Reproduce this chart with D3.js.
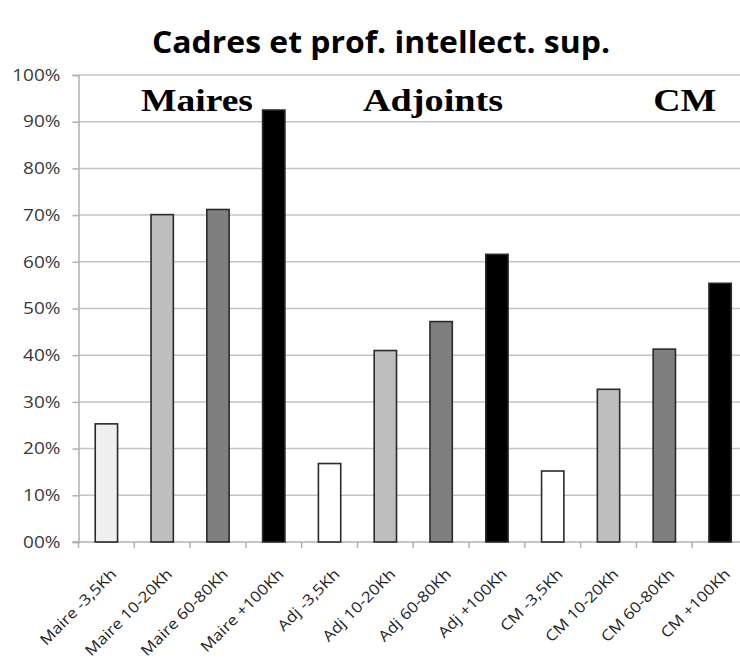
<!DOCTYPE html>
<html>
<head>
<meta charset="utf-8">
<script src="https://cdn.jsdelivr.net/npm/d3@7"></script>
<style>
  body { margin: 0; background: #fff; }
  svg { display: block; }
</style>
</head>
<body>
<div class="chart"></div>
<script>
// categories and values
var categories = ["Maire -3,5Kh", "Maire 10-20Kh", "Maire 60-80Kh", "Maire +100Kh",
                  "Adj -3,5Kh", "Adj 10-20Kh", "Adj 60-80Kh", "Adj +100Kh",
                  "CM -3,5Kh", "CM 10-20Kh", "CM 60-80Kh", "CM +100Kh"];
var values = [25.3, 70.1, 71.2, 92.5, 16.8, 41.0, 47.2, 61.6, 15.2, 32.7, 41.3, 55.4];
var fills = ["#efefef", "#bebebe", "#7f7f7f", "#000000",
             "#ffffff", "#bebebe", "#7f7f7f", "#000000",
             "#ffffff", "#bebebe", "#7f7f7f", "#000000"];
var yTicks = [0, 10, 20, 30, 40, 50, 60, 70, 80, 90, 100];
var yTickLabels = ["00%", "10%", "20%", "30%", "40%", "50%", "60%", "70%", "80%", "90%", "100%"];
var groups = ["Maires", "Adjoints", "CM"];
var title = "Cadres et prof. intellect. sup.";

var svgWidth = 740, svgHeight = 666;
var margin = {top: 75, right: -8, bottom: 124, left: 78.5};
var width = svgWidth - margin.left - margin.right;
var height = svgHeight - margin.top - margin.bottom;

// the picture is a bit wider than the fonts, so stretch text sideways
function stretch(sel, k) {
  sel.each(function() {
    var len = this.getComputedTextLength();
    d3.select(this)
      .attr("textLength", len * k)
      .attr("lengthAdjust", "spacingAndGlyphs");
  });
}

var svg = d3.select(".chart").append("svg")
  .attr("width", svgWidth)
  .attr("height", svgHeight);

svg.append("text")
  .attr("x", 381)
  .attr("y", 53)
  .attr("text-anchor", "middle")
  .style("font-family", "'Open Sans', sans-serif")
  .style("font-weight", "bold")
  .style("font-size", "30px")
  .style("fill", "#000")
  .text(title)
  .attr("textLength", 458)
  .attr("lengthAdjust", "spacingAndGlyphs");

var chartGroup = svg.append("g")
  .attr("transform", `translate(${margin.left}, ${margin.top})`);

var x = d3.scaleBand()
  .domain(categories)
  .range([0, width])
  .paddingInner(0.6)
  .paddingOuter(0.3);

var y = d3.scaleLinear()
  .domain([0, 100])
  .range([height, 0]);

// gridlines
chartGroup.append("g")
  .selectAll("line")
  .data(yTicks.filter(d => d > 0))
  .enter()
  .append("line")
  .attr("x1", 0)
  .attr("x2", svgWidth)
  .attr("y1", d => y(d))
  .attr("y2", d => y(d))
  .attr("stroke", "#c4c4c4")
  .attr("stroke-width", 1.5);

// y axis
var leftAxis = d3.axisLeft(y)
  .tickValues(yTicks)
  .tickFormat((d, i) => yTickLabels[i])
  .tickSize(6)
  .tickPadding(12);

var yAxis = chartGroup.append("g").call(leftAxis);
yAxis.select(".domain").attr("stroke", "#b0b0b0").attr("stroke-width", 1.5);
yAxis.selectAll(".tick line").attr("stroke", "#b0b0b0").attr("stroke-width", 1.5);
yAxis.selectAll("text")
  .style("font-family", "'Open Sans', sans-serif")
  .style("font-size", "16.5px")
  .style("fill", "#383838")
  .call(stretch, 1.15);

// x axis line and ticks at band boundaries
var step = x.step();
var boundaries = d3.range(categories.length + 1).map(i => x(categories[0]) - x.bandwidth() * 0.75 + i * step);
chartGroup.append("line")
  .attr("x1", -6)
  .attr("x2", svgWidth)
  .attr("y1", height)
  .attr("y2", height)
  .attr("stroke", "#b0b0b0")
  .attr("stroke-width", 1.5);
chartGroup.append("g")
  .selectAll("line")
  .data(boundaries)
  .enter()
  .append("line")
  .attr("x1", d => d)
  .attr("x2", d => d)
  .attr("y1", height)
  .attr("y2", height + 6)
  .attr("stroke", "#b0b0b0")
  .attr("stroke-width", 1.5);

// bars
chartGroup.selectAll("rect.bar")
  .data(values)
  .enter()
  .append("rect")
  .attr("class", "bar")
  .attr("x", (d, i) => x(categories[i]))
  .attr("y", d => y(d))
  .attr("width", x.bandwidth())
  .attr("height", d => height - y(d))
  .attr("fill", (d, i) => fills[i])
  .attr("stroke", "#2a2a2a")
  .attr("stroke-width", 1.6);

// x labels
chartGroup.append("g")
  .selectAll("text")
  .data(categories)
  .enter()
  .append("text")
  .attr("transform", d => `translate(${x(d) + x.bandwidth() / 2 + 11}, ${height + 33}) rotate(-45)`)
  .attr("text-anchor", "end")
  .style("font-family", "'Open Sans', sans-serif")
  .style("font-size", "15px")
  .style("fill", "#222")
  .text(d => d)
  .call(stretch, 1.14);

// group labels, left-aligned
var groupX = [x(categories[0]) + x.bandwidth() * 2.05,
              x(categories[4]) + x.bandwidth() * 2.0,
              x(categories[10])];
var groupW = [112, 140, 63];
chartGroup.append("g")
  .selectAll("text")
  .data(groups)
  .enter()
  .append("text")
  .attr("x", (d, i) => groupX[i])
  .attr("y", y(92.2))
  .style("font-family", "'Liberation Serif', 'Times New Roman', serif")
  .style("font-weight", "bold")
  .style("font-size", "32px")
  .style("fill", "#000")
  .text(d => d)
  .attr("textLength", (d, i) => groupW[i])
  .attr("lengthAdjust", "spacingAndGlyphs");
</script>
</body>
</html>
